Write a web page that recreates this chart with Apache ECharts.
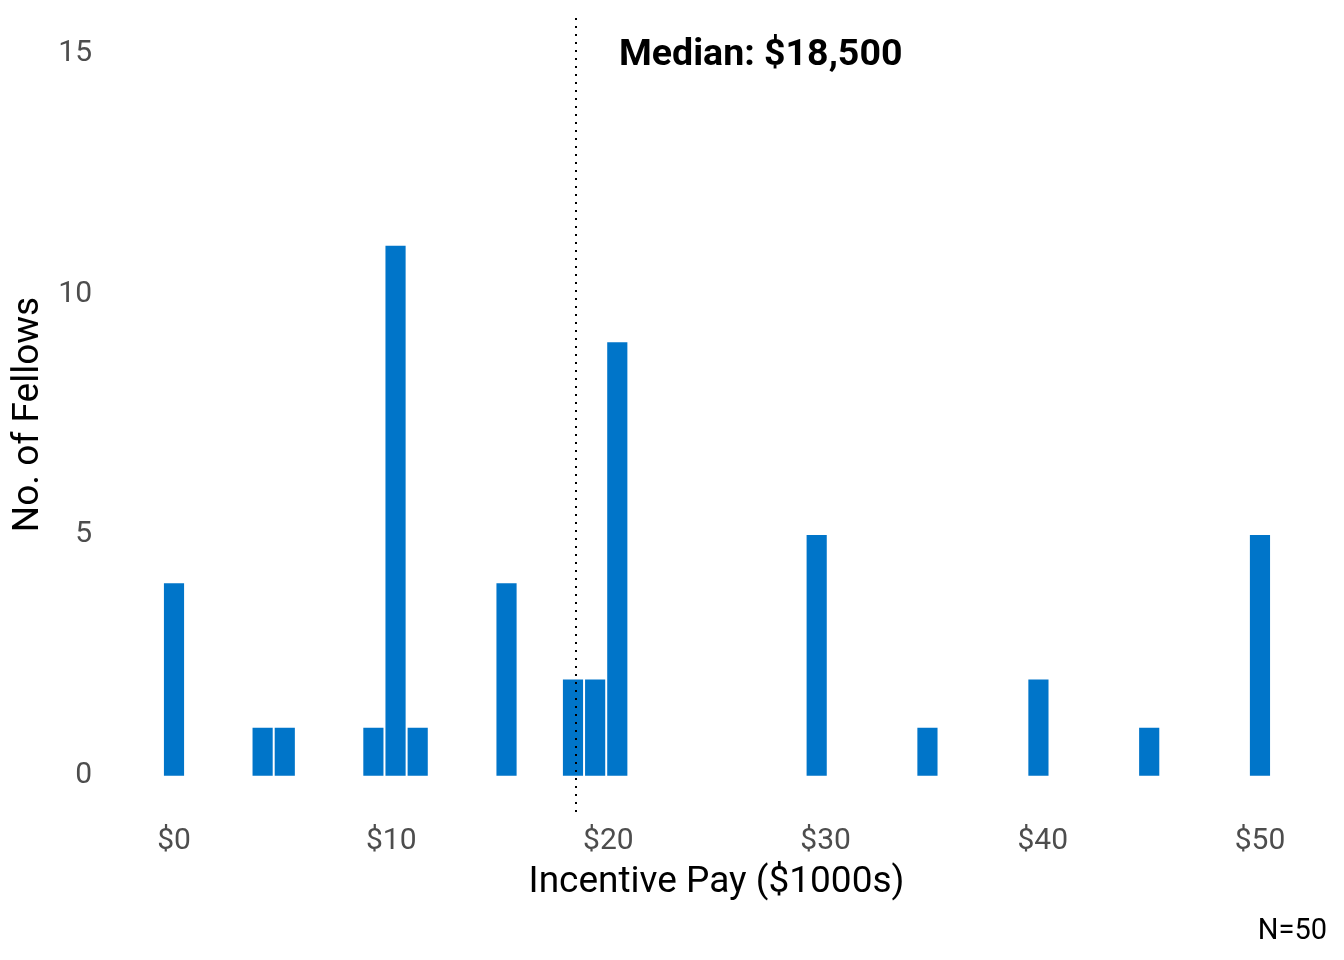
<!DOCTYPE html>
<html>
<head>
<meta charset="utf-8">
<script src="https://cdn.jsdelivr.net/npm/echarts@6/dist/echarts.min.js"></script>
<style>
  html, body { margin: 0; padding: 0; background: #ffffff; }
  #chart { width: 1344px; height: 960px; }
</style>
</head>
<body>
<div id="chart"></div>
<script>
// Histogram bins (centre of each bin, in $1000s) and counts
const binCenters = [0, 4.08, 5.10, 9.18, 10.20, 11.22, 15.31, 18.37, 19.39, 20.41, 29.59, 34.69, 39.80, 44.90, 50.0];
const counts     = [4, 1, 1, 1, 11, 1, 4, 2, 2, 9, 5, 1, 2, 1, 5];
const binWidth = 1.0204;
const xTicks = [0, 10, 20, 30, 40, 50];
const yTicks = [0, 5, 10, 15];
const medianValue = 18.5;
const medianLabel = 'Median: $18,500';
const nLabel = 'N=50';

const data = binCenters.map((c, i) => [c, counts[i]]);

const chart = echarts.init(document.getElementById('chart'), null, { renderer: 'canvas' });
const FONT = 'Roboto';

chart.setOption({
  backgroundColor: '#ffffff',
  animation: false,
  grid: { left: 107, right: 18, top: 17, bottom: 148, containLabel: false, outerBoundsMode: 'none' },
  xAxis: {
    type: 'value',
    min: -3.085, max: 53.04,
    axisLine: { show: false },
    axisTick: { show: false },
    splitLine: { show: false },
    axisLabel: {
      customValues: xTicks,
      formatter: v => '$' + v,
      color: '#4d4d4d', fontFamily: FONT, fontSize: 30, margin: 14
    },
    name: 'Incentive Pay ($1000s)',
    nameLocation: 'middle',
    nameGap: 52,
    nameTextStyle: { color: '#000000', fontFamily: FONT, fontSize: 37 }
  },
  yAxis: {
    type: 'value',
    min: -0.75, max: 15.75,
    axisLine: { show: false },
    axisTick: { show: false },
    splitLine: { show: false },
    axisLabel: {
      customValues: yTicks,
      color: '#4d4d4d', fontFamily: FONT, fontSize: 30, margin: 15,
      padding: [5, 0, 0, 0]
    },
    name: 'No. of Fellows',
    nameLocation: 'middle',
    nameGap: 49,
    nameRotate: 90,
    nameTextStyle: { color: '#000000', fontFamily: FONT, fontSize: 37 }
  },
  series: [{
    type: 'custom',
    data: data,
    renderItem: function (params, api) {
      const x = api.value(0), y = api.value(1);
      const p1 = api.coord([x - binWidth / 2, y]);
      const p2 = api.coord([x + binWidth / 2, 0]);
      return {
        type: 'rect',
        shape: { x: p1[0] + 1, y: p1[1], width: p2[0] - p1[0] - 2, height: p2[1] - p1[1] },
        style: { fill: '#0075C9' }
      };
    },
    markLine: {
      silent: true,
      symbol: 'none',
      label: { show: false },
      lineStyle: { color: '#000000', type: [2, 6], width: 2 },
      data: [{ xAxis: medianValue }],
      z: 10
    },
    z: 2
  }],
  graphic: [
    {
      type: 'text', left: 619, top: 37,
      style: { text: medianLabel, fontFamily: FONT, fontWeight: 'bold', fontSize: 37.5, fill: '#000000' }
    },
    {
      type: 'text', right: 17, top: 917,
      style: { text: nLabel, fontFamily: FONT, fontSize: 29, fill: '#000000' }
    }
  ]
});
</script>
</body>
</html>
